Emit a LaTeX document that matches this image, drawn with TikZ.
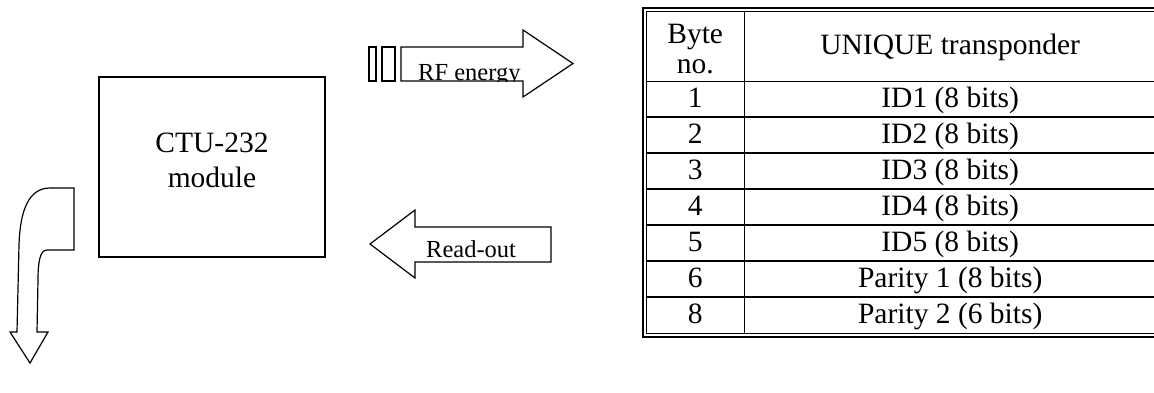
\documentclass[tikz,border=0pt]{standalone}
\usepackage{fontspec}
\setmainfont{Liberation Serif}
\usetikzlibrary{matrix}

\begin{document}
\begin{tikzpicture}[x=1pt,y=-1pt,
  big/.style={font=\fontsize{29.5}{35}\selectfont},
  small/.style={font=\fontsize{24.5}{29}\selectfont},
  block arrow/.style={draw,line width=1.2pt,line join=miter},
  mod box/.style={draw,line width=1.3pt,minimum width=226pt,minimum height=180pt}]

\useasboundingbox (0,0) rectangle (1154,392);

% reader module
\node[mod box] (ctu) at (212,167) {};
\node[big,align=center,yshift=7pt] (ctu label) at (ctu.center) {CTU-232\\module};

% serial line out of the module
\draw[block arrow] (50,188) -- (74,188) -- (74,250) -- (47,250)
  .. controls (40,250) and (38,262) .. (38,280) -- (37,332) -- (48,332)
  -- (30,363) -- (10,332) -- (17,332) -- (19,245)
  .. controls (20,212) and (28,188) .. (50,188) -- cycle;

% RF energy to the transponder
\draw[block arrow] (369,47) rectangle (376,81);
\draw[block arrow] (382,47) rectangle (395,81);
\begin{scope}
  \clip (401,47) rectangle (523,81);
  \node[small,anchor=base west,inner sep=0pt] (rf) at (418,80) {RF energy};
\end{scope}
\draw[block arrow] (401,47) -- (523,47) -- (523,30) -- (573,63.5)
  -- (523,97) -- (523,81) -- (401,81) -- cycle;

% read-out back to the module
\node[small,anchor=base west,inner sep=0pt] (ro) at (426,257) {Read-out};
\draw[block arrow] (551,227) -- (551,262) -- (415,262) -- (415,278)
  -- (370,244) -- (415,210) -- (415,227) -- cycle;

% transponder memory
\matrix (tab) [matrix of nodes, anchor=north west, inner sep=0pt,
  row sep=0pt, column sep=0pt,
  nodes={anchor=center, inner sep=0pt, minimum height=36pt,
    text height=22pt, text depth=6pt, font=\fontsize{29.5}{27}\selectfont},
  column 1/.style={nodes={minimum width=98pt}},
  column 2/.style={nodes={minimum width=412pt}},
  row 1/.style={nodes={minimum height=70pt}}]
  at (646,11) {
  \raisebox{-5pt}{\begin{tabular}{@{}c@{}}Byte\\[3pt]no.\end{tabular}} & UNIQUE transponder \\
  1 & ID1 (8 bits) \\
  2 & ID2 (8 bits) \\
  3 & ID3 (8 bits) \\
  4 & ID4 (8 bits) \\
  5 & ID5 (8 bits) \\
  6 & Parity 1 (8 bits) \\
  8 & Parity 2 (6 bits) \\
};

\draw[line width=1.3pt] (tab-1-1.north east) -- (tab-8-1.south east);
\draw[line width=1pt] (tab-1-1.south west) -- (tab-1-2.south east);
\foreach \r in {2,...,7}
  \draw[line width=2pt] (tab-\r-1.south west) -- (tab-\r-2.south east);
\draw[line width=1pt] (tab.north west) rectangle (tab.south east);
\draw[line width=2pt] ([shift={(-3.5pt,3.5pt)}]tab.north west)
  rectangle ([shift={(3.5pt,-3.5pt)}]tab.south east);
\end{tikzpicture}
\end{document}
